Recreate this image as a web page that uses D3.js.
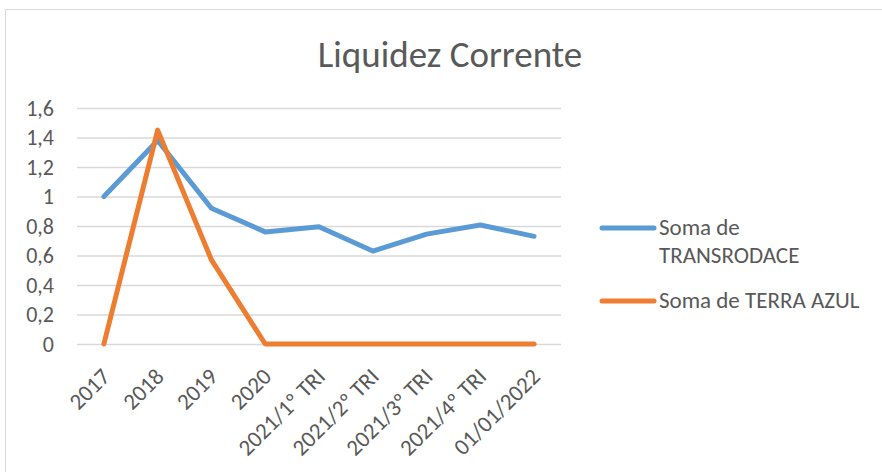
<!DOCTYPE html>
<html>
<head>
<meta charset="utf-8">
<script src="https://cdn.jsdelivr.net/npm/d3@7"></script>
<style>
  body { margin: 0; background: #fff; }
  svg text { font-family: Carlito, Calibri, "Open Sans", sans-serif; fill: #595959; }
</style>
</head>
<body>
<div class="d3-wrapper"></div>
<script>
// Chart data
const categories = ['2017', '2018', '2019', '2020', '2021/1º TRI', '2021/2º TRI', '2021/3º TRI', '2021/4º TRI', '01/01/2022'];
const transrodace = [1.00, 1.38, 0.92, 0.76, 0.795, 0.63, 0.745, 0.807, 0.73];
const terraAzul = [0, 1.45, 0.57, 0, 0, 0, 0, 0, 0];
const yTicks = [0, 0.2, 0.4, 0.6, 0.8, 1, 1.2, 1.4, 1.6];
const seriesNames = ['Soma de TRANSRODACE', 'Soma de TERRA AZUL'];

const WIDTH = 882, HEIGHT = 472;
const PLOT = { left: 77, right: 561, top: 108, bottom: 344 };
const COLORS = ['#5B9BD5', '#ED7D31'];

const svg = d3.select('.d3-wrapper').append('svg')
  .attr('width', WIDTH)
  .attr('height', HEIGHT);

// chart area border
svg.append('rect')
  .attr('x', 5.5).attr('y', 9.5)
  .attr('width', 1000).attr('height', 1000)
  .attr('fill', 'none')
  .attr('stroke', '#d9d9d9');

const xScale = d3.scalePoint().domain(categories).range([PLOT.left, PLOT.right]).padding(0.5);
const yScale = d3.scaleLinear().domain([0, 1.6]).range([PLOT.bottom, PLOT.top]);

const fmt = d => String(+d.toFixed(1)).replace('.', ',');

const yAxis = d3.axisLeft(yScale)
  .tickValues(yTicks)
  .tickFormat(fmt)
  .tickSizeInner(-(PLOT.right - PLOT.left))
  .tickSizeOuter(0)
  .tickPadding(23);

const gy = svg.append('g')
  .attr('transform', `translate(${PLOT.left},0)`)
  .call(yAxis);
gy.select('.domain').remove();
gy.selectAll('line').attr('stroke', '#d9d9d9').attr('stroke-width', 1.3);
gy.selectAll('text').style('font-size', '22px');

const xAxis = d3.axisBottom(xScale).tickSize(0).tickPadding(0);
const gx = svg.append('g')
  .attr('transform', `translate(0,${PLOT.bottom})`)
  .call(xAxis);
gx.select('.domain').remove();
gx.selectAll('text')
  .style('font-size', '23px')
  .attr('text-anchor', 'end')
  .attr('dy', null)
  .attr('y', 0)
  .attr('transform', 'translate(7,34) rotate(-45)');

const line = d3.line()
  .x((d, i) => xScale(categories[i]))
  .y(d => yScale(d));

[transrodace, terraAzul].forEach((vals, k) => {
  svg.append('path')
    .datum(vals)
    .attr('d', line)
    .attr('fill', 'none')
    .attr('stroke', COLORS[k])
    .attr('stroke-width', 5)
    .attr('stroke-linejoin', 'round')
    .attr('stroke-linecap', 'round');
});

// title
svg.append('text')
  .attr('x', 450).attr('y', 67)
  .attr('text-anchor', 'middle')
  .style('font-size', '37px')
  .text('Liquidez Corrente');

// legend
const legend = [
  { y: 228, lines: ['Soma de', 'TRANSRODACE'] },
  { y: 301, lines: ['Soma de TERRA AZUL'] }
];
legend.forEach((item, k) => {
  svg.append('line')
    .attr('x1', 602).attr('x2', 654)
    .attr('y1', item.y).attr('y2', item.y)
    .attr('stroke', COLORS[k])
    .attr('stroke-width', 5)
    .attr('stroke-linecap', 'round');
  const t = svg.append('text')
    .attr('x', 659).attr('y', item.y + 7)
    .style('font-size', '23px');
  item.lines.forEach((s, j) => {
    t.append('tspan').attr('x', 659).attr('dy', j ? 28 : 0).text(s);
  });
});
</script>
</body>
</html>
